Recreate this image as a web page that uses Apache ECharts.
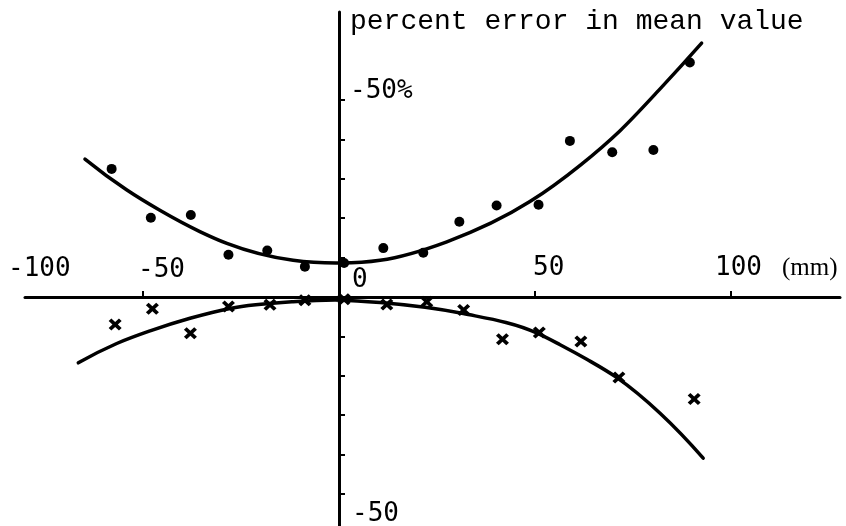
<!DOCTYPE html>
<html>
<head>
<meta charset="utf-8">
<script src="https://cdn.jsdelivr.net/npm/echarts@6/dist/echarts.min.js"></script>
<style>
  html, body { margin: 0; padding: 0; background: #fff; }
  #chart { width: 846px; height: 526px; }
</style>
</head>
<body>
<div id="chart"></div>
<script>
// Positional error measurements (mm) and fitted trend curves
const upperX = [-58, -48, -37.8, -28.2, -18.3, -8.7, 1.3, 11.3, 21.5, 30.7, 40.2, 50.9, 58.9, 69.7, 80.2, 89.5];
const upperY = [32.5, 20.1, 20.8, 10.7, 11.8, 7.7, 8.6, 12.4, 11.2, 19.1, 23.2, 23.4, 39.6, 36.7, 37.3, 59.5];

const lowerX = [-57.1, -47.6, -37.9, -28.2, -17.6, -8.7, 1.3, 12.2, 22.4, 31.8, 41.7, 51.1, 61.7, 71.4, 90.6];
const lowerY = [-7.0, -3.0, -9.2, -2.4, -2.0, -0.8, -0.6, -1.9, -1.2, -3.3, -10.7, -9.0, -11.3, -20.4, -25.9];

const upperCurveX = [-64.8, -54.2, -45.7, -35.5, -28.6, -11.7, 0.3, 10.5, 27.5, 48.7, 61.5, 71.7, 81.9, 92.5];
const upperCurveY = [35.0, 27.2, 22.0, 16.6, 13.6, 9.3, 8.6, 9.3, 14.0, 24.2, 33.4, 42.2, 52.8, 64.4];

const lowerCurveX = [-66.5, -56.7, -48.2, -38.0, -27.8, -11.7, 0.3, 10.5, 31.7, 50.4, 56.4, 63.2, 70.8, 81.9, 92.9];
const lowerCurveY = [-16.7, -11.8, -8.6, -5.4, -2.9, -1.2, -0.8, -1.4, -4.2, -9.1, -12.1, -15.8, -20.4, -29.5, -40.9];

// Text
const xTickLabels = ['-100', '-50', '0', '50', '100'];
const xUnit = '(mm)';
const yTickLabels = ['-50%', '-50'];
const yTitle = 'percent error in mean value';
const xTickValues = [-50, 50, 100];
const yTickValues = [-50, -40, -30, -20, -10, 10, 20, 30, 40, 50];

const zip = (xs, ys) => xs.map((x, i) => [x, ys[i]]);

const INK = '#000';
const labelFont = '"DejaVu Sans Mono", monospace';
const crossPath = 'path://M0,2.5 L2.5,0 L6,3.5 L9.5,0 L12,2.5 L8.5,6 L12,9.5 L9.5,12 L6,8.5 L2.5,12 L0,9.5 L3.5,6 Z';

// Cubic Hermite path through pixel points ordered by x (non-uniform spacing aware)
function splinePath(p) {
  const n = p.length;
  const h = [], d = [];
  for (let i = 0; i < n - 1; i++) {
    h.push(p[i + 1][0] - p[i][0]);
    d.push((p[i + 1][1] - p[i][1]) / h[i]);
  }
  const m = new Array(n);
  for (let i = 1; i < n - 1; i++) {
    m[i] = (d[i - 1] * h[i] + d[i] * h[i - 1]) / (h[i - 1] + h[i]);
  }
  m[0] = 2 * d[0] - m[1];
  m[n - 1] = 2 * d[n - 2] - m[n - 2];
  let s = 'M' + p[0][0] + ' ' + p[0][1];
  for (let i = 0; i < n - 1; i++) {
    const t = h[i] / 3;
    s += ' C' + (p[i][0] + t) + ' ' + (p[i][1] + m[i] * t) + ' ' +
         (p[i + 1][0] - t) + ' ' + (p[i + 1][1] - m[i + 1] * t) + ' ' +
         p[i + 1][0] + ' ' + p[i + 1][1];
  }
  return s;
}

function curveSeries(xs, ys) {
  const pts = zip(xs, ys);
  return {
    type: 'custom',
    data: pts,
    clip: true,
    renderItem: function (params, api) {
      if (params.dataIndex !== 0) return null;
      const px = pts.map(q => api.coord(q));
      return {
        type: 'path',
        shape: { pathData: splinePath(px) },
        style: { fill: null, stroke: INK, lineWidth: 3.5, lineCap: 'round', lineJoin: 'round' }
      };
    }
  };
}

// Hand-placed label anchors (left edge, vertical middle)
const xLabelAnchors = [[8, 270], [138, 271], [352, 281], [533, 269], [715, 269]];

const graphics = xTickLabels.map((t, i) => ({
  type: 'text', left: xLabelAnchors[i][0], top: xLabelAnchors[i][1] - 14,
  style: { text: t, font: '26px ' + labelFont, fill: INK }
}));
graphics.push(
  { type: 'text', left: 782, top: 256,
    style: { text: xUnit, font: '25px "Liberation Serif", serif', fill: INK } },
  { type: 'text', left: 350, top: 78,
    style: { text: yTickLabels[0], font: '26px ' + labelFont, fill: INK } },
  { type: 'text', left: 352, top: 501,
    style: { text: yTickLabels[1], font: '26px ' + labelFont, fill: INK } },
  { type: 'text', left: 350, top: 8,
    style: { text: yTitle, font: '28px "Liberation Mono", monospace', fill: INK } }
);

const chart = echarts.init(document.getElementById('chart'), null, { renderer: 'canvas' });
chart.setOption({
  backgroundColor: '#fff',
  animation: false,
  grid: { left: 25, right: 6, top: 12, bottom: 0 },
  xAxis: {
    type: 'value', min: -80.1, max: 127.8,
    axisLine: { onZero: true, lineStyle: { color: INK, width: 3 } },
    axisTick: { show: true, inside: true, length: 6, customValues: xTickValues,
                lineStyle: { color: INK, width: 2 } },
    axisLabel: { show: false },
    splitLine: { show: false }
  },
  yAxis: {
    type: 'value', min: -58.1, max: 72.3,
    axisLine: { onZero: true, lineStyle: { color: INK, width: 3 } },
    axisTick: { show: true, inside: true, length: 6, customValues: yTickValues,
                lineStyle: { color: INK, width: 2 } },
    axisLabel: { show: false },
    splitLine: { show: false }
  },
  series: [
    curveSeries(upperCurveX, upperCurveY),
    curveSeries(lowerCurveX, lowerCurveY),
    { type: 'scatter', data: zip(upperX, upperY), symbol: 'circle', symbolSize: 10,
      itemStyle: { color: INK, opacity: 1 } },
    { type: 'scatter', data: zip(lowerX, lowerY), symbol: crossPath, symbolSize: [13, 12],
      itemStyle: { color: INK, opacity: 1 } }
  ],
  graphic: graphics
});
</script>
</body>
</html>
